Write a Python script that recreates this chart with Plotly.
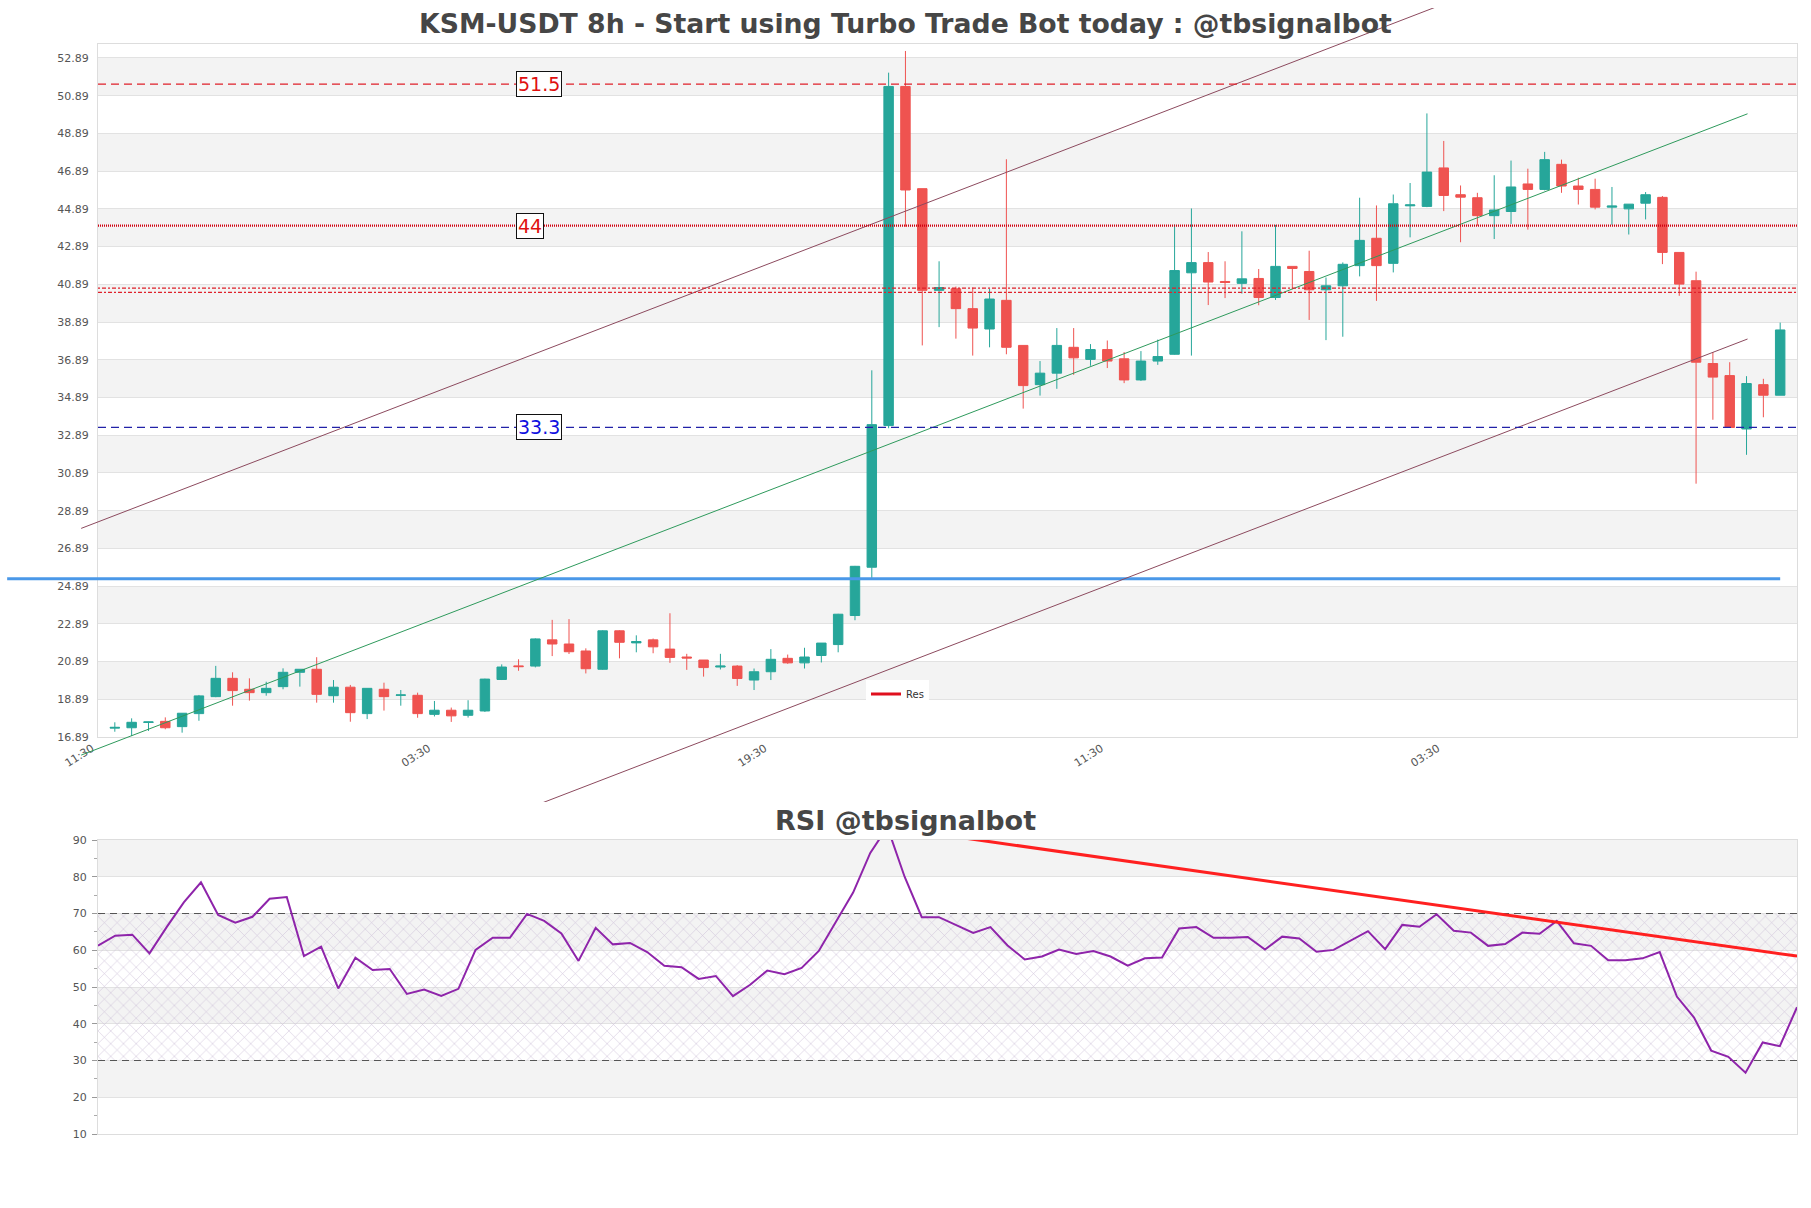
import plotly.graph_objects as go

W, H = 1811, 1208

# ---------------- data ----------------
candle_idx = list(range(100))
opens = [17.36, 17.38, 17.66, 17.72, 17.44, 18.13, 19.03, 20.00, 19.42, 19.24,
         19.56, 20.32, 20.48, 19.08, 19.53, 18.13, 19.42, 19.10, 19.10, 18.09,
         18.31, 18.04, 18.27, 19.94, 20.66, 20.65, 22.04, 21.82, 21.45, 20.48,
         22.52, 21.88, 22.04, 21.55, 21.13, 20.97, 20.60, 20.65, 19.91, 20.35,
         21.06, 20.82, 21.21, 21.79, 23.33, 25.89, 33.40, 51.38, 45.96, 40.57,
         40.65, 39.60, 38.52, 40.04, 37.65, 35.57, 36.18, 37.55, 36.91, 37.43,
         36.94, 35.82, 36.82, 37.18, 41.50, 42.04, 41.04, 40.94, 41.20, 40.19,
         41.84, 41.57, 40.60, 40.81, 41.88, 43.33, 42.00, 45.05, 45.02, 47.06,
         45.64, 45.48, 44.53, 44.75, 46.21, 45.92, 47.25, 46.10, 45.92, 44.98,
         44.89, 45.19, 45.50, 42.58, 41.08, 36.69, 36.05, 33.22, 35.57, 35.01]
highs = [17.67, 17.88, 17.70, 17.93, 18.16, 19.12, 20.66, 20.32, 20.00, 19.82,
         20.53, 20.48, 21.12, 19.91, 19.65, 19.47, 19.77, 19.38, 19.24, 18.80,
         18.45, 18.84, 19.98, 20.74, 21.01, 22.12, 23.10, 23.14, 21.59, 22.55,
         22.55, 22.28, 22.11, 23.45, 21.30, 20.97, 21.30, 20.70, 20.52, 21.55,
         21.26, 21.62, 21.87, 23.42, 25.96, 36.33, 52.11, 53.26, 45.96, 42.11,
         40.77, 40.72, 40.65, 47.52, 37.65, 36.82, 38.57, 38.57, 37.72, 37.91,
         37.30, 37.35, 37.96, 44.06, 44.91, 42.60, 42.11, 43.70, 41.70, 44.04,
         41.84, 42.67, 41.25, 42.05, 45.48, 45.07, 45.65, 46.26, 49.95, 48.49,
         46.13, 45.74, 46.67, 47.45, 47.02, 47.91, 47.50, 46.54, 46.49, 46.05,
         45.14, 45.78, 45.57, 42.58, 41.56, 37.30, 36.76, 36.02, 35.88, 38.86]
lows = [17.17, 16.94, 17.21, 17.30, 17.12, 17.75, 19.00, 18.55, 18.82, 19.08,
        19.42, 19.56, 18.71, 18.71, 17.70, 17.84, 18.29, 18.55, 17.91, 17.98,
        17.69, 17.92, 18.22, 19.91, 20.40, 20.58, 21.18, 21.29, 20.26, 20.45,
        21.06, 21.38, 21.33, 20.82, 20.45, 20.09, 20.47, 19.60, 19.38, 19.91,
        20.77, 20.52, 20.84, 21.38, 23.08, 25.28, 33.26, 43.94, 37.65, 38.62,
        38.01, 37.11, 37.55, 37.18, 34.30, 34.99, 35.35, 36.09, 36.57, 36.45,
        35.65, 35.77, 36.62, 37.16, 37.11, 39.79, 40.16, 40.40, 39.78, 40.06,
        40.63, 39.00, 37.93, 38.11, 41.31, 40.01, 41.52, 43.38, 44.98, 44.77,
        43.12, 44.00, 43.29, 44.09, 43.79, 45.87, 45.74, 45.12, 44.86, 44.04,
        43.53, 44.33, 41.96, 40.28, 30.32, 33.71, 33.30, 31.85, 33.84, 35.01]
closes = [17.40, 17.67, 17.69, 17.38, 18.15, 19.07, 20.00, 19.35, 19.24, 19.47,
          20.32, 20.48, 19.15, 19.53, 18.18, 19.47, 19.03, 19.12, 18.13, 18.31,
          18.01, 18.31, 19.96, 20.60, 20.62, 22.09, 21.82, 21.41, 20.51, 22.52,
          21.91, 21.95, 21.67, 21.11, 21.08, 20.57, 20.65, 19.99, 20.35, 21.01,
          20.82, 21.13, 21.87, 23.40, 25.94, 33.45, 51.38, 45.89, 40.57, 40.72,
          39.60, 38.57, 40.11, 37.55, 35.52, 36.18, 37.65, 36.99, 37.43, 36.82,
          35.82, 36.82, 37.06, 41.62, 42.04, 41.01, 40.99, 41.18, 40.19, 41.84,
          41.73, 40.60, 40.81, 41.95, 43.22, 41.88, 45.16, 45.10, 46.84, 45.60,
          45.51, 44.53, 44.83, 46.05, 45.92, 47.50, 46.10, 45.92, 44.98, 45.04,
          45.14, 45.64, 42.58, 40.90, 36.76, 35.97, 33.30, 35.63, 35.01, 38.47]

rsi_idx = list(range(100))
rsi_vals = [61.25, 63.97, 64.24, 59.16, 66.3, 73.0, 78.5, 69.6, 67.5, 69.1,
            74.0, 74.5, 58.4, 61.0, 49.6, 58.0, 54.6, 54.9, 48.1, 49.3,
            47.6, 49.5, 60.1, 63.4, 63.4, 69.9, 68.0, 64.6, 57.1, 66.1,
            61.6, 62.0, 59.5, 55.8, 55.4, 52.2, 53.0, 47.5, 50.6, 54.5,
            53.5, 55.2, 59.8, 67.8, 75.7, 86.5, 93.5, 80.0, 69.0, 69.0,
            66.9, 64.7, 66.3, 61.3, 57.5, 58.3, 60.2, 59.0, 59.8, 58.3,
            55.8, 57.8, 58.0, 65.9, 66.3, 63.4, 63.4, 63.6, 60.2, 63.7,
            63.2, 59.6, 60.1, 62.6, 65.2, 60.3, 66.9, 66.4, 69.8, 65.3,
            64.8, 61.2, 61.7, 64.8, 64.5, 68.0, 61.9, 61.2, 57.3, 57.3,
            57.8, 59.5, 47.4, 41.7, 32.7, 31.0, 26.7, 34.9, 33.9, 44.5]

xtick_vals = [-1, 19, 39, 59, 79]
xtick_text = ["11:30", "03:30", "19:30", "11:30", "03:30"]
price_ticks = [16.89, 18.89, 20.89, 22.89, 24.89, 26.89, 28.89, 30.89, 32.89, 34.89,
               36.89, 38.89, 40.89, 42.89, 44.89, 46.89, 48.89, 50.89, 52.89]
rsi_ticks = [10, 20, 30, 40, 50, 60, 70, 80, 90]

res_level_dash = 51.5
res_level_dot = 44.0
zone_levels = [40.46, 40.69]
sup_level = 33.3
blue_level = 25.28
blue_span = [-6.4, 99]

trend_x = [-2, 97.06]
trend_mid = [15.93, 49.93]
trend_up = [27.95, 61.95]
trend_lo = [3.99, 37.99]

rsi_trend_x = [46, 99]
rsi_trend_y = [93.5, 58.4]
rsi_ob, rsi_os = 70, 30

# ---------------- layout geometry ----------------
X0, X1 = 98 / W, 1797 / W
YM0, YM1 = 1 - 737 / H, 1 - 44 / H
YR0, YR1 = 1 - 1134 / H, 1 - 840 / H
xr = [-1, 100]
yr = [16.89, 53.63]
OX0, OX1 = 0.0, 1.0
OY0, OY1 = 1 - 802 / H, 1 - 8 / H


def lin(a0, a1, d0, d1, p):
    return a0 + (p - d0) / (d1 - d0) * (a1 - a0)


ox_range = [lin(xr[0], xr[1], X0, X1, OX0), lin(xr[0], xr[1], X0, X1, OX1)]
oy_range = [lin(yr[0], yr[1], YM0, YM1, OY0), lin(yr[0], yr[1], YM0, YM1, OY1)]

FONT = "DejaVu Sans"
GRAY_BAND = "#f3f3f3"
GRID = "#e2e2e2"
GREEN = "#26a69a"
RED = "#ef5350"

fig = go.Figure()

fig.add_trace(go.Candlestick(
    x=candle_idx, open=opens, high=highs, low=lows, close=closes,
    increasing=dict(line=dict(color=GREEN, width=1), fillcolor=GREEN),
    decreasing=dict(line=dict(color=RED, width=1), fillcolor=RED),
    whiskerwidth=0, showlegend=False, hoverinfo="skip",
    xaxis="x", yaxis="y"))

fig.add_trace(go.Scatter(x=[None], y=[None], mode="lines", name="Res",
                         line=dict(color="#e0101e", width=3),
                         xaxis="x", yaxis="y", showlegend=True))

fig.add_trace(go.Scatter(
    x=[rsi_idx[0], rsi_idx[-1], rsi_idx[-1], rsi_idx[0], rsi_idx[0]],
    y=[rsi_os, rsi_os, rsi_ob, rsi_ob, rsi_os],
    fill="toself", mode="lines", line=dict(width=0),
    fillcolor="rgba(0,0,0,0)",
    fillpattern=dict(shape="x", size=9, solidity=0.12, fgcolor="#c9bcd6",
                     fgopacity=0.9, fillmode="overlay"),
    showlegend=False, hoverinfo="skip", xaxis="x2", yaxis="y2"))

for lv in [rsi_ob, rsi_os]:
    fig.add_trace(go.Scatter(x=[rsi_idx[0], rsi_idx[-1]], y=[lv, lv], mode="lines",
                             line=dict(color="#555555", width=1.2, dash="7px,5px"),
                             showlegend=False, hoverinfo="skip", xaxis="x2", yaxis="y2"))

fig.add_trace(go.Scatter(x=rsi_idx, y=rsi_vals, mode="lines",
                         line=dict(color="#8e24aa", width=2),
                         showlegend=False, hoverinfo="skip", xaxis="x2", yaxis="y2"))
fig.add_trace(go.Scatter(x=rsi_trend_x, y=rsi_trend_y, mode="lines",
                         line=dict(color="#ff2020", width=3),
                         showlegend=False, hoverinfo="skip", xaxis="x2", yaxis="y2"))

fig.add_trace(go.Scatter(x=blue_span, y=[blue_level, blue_level], mode="lines",
                         line=dict(color="#4a98e8", width=3),
                         showlegend=False, hoverinfo="skip", xaxis="x3", yaxis="y3"))
fig.add_trace(go.Scatter(x=trend_x, y=trend_up, mode="lines",
                         line=dict(color="#8c4a5e", width=1),
                         showlegend=False, hoverinfo="skip", xaxis="x3", yaxis="y3"))
fig.add_trace(go.Scatter(x=trend_x, y=trend_lo, mode="lines",
                         line=dict(color="#8c4a5e", width=1),
                         showlegend=False, hoverinfo="skip", xaxis="x3", yaxis="y3"))
fig.add_trace(go.Scatter(x=trend_x, y=trend_mid, mode="lines",
                         line=dict(color="#2e9a5c", width=1),
                         showlegend=False, hoverinfo="skip", xaxis="x3", yaxis="y3"))

shapes = []
for k in range(len(price_ticks) - 1):
    if k % 2 == 1:
        shapes.append(dict(type="rect", xref="paper", yref="y", x0=X0, x1=X1,
                           y0=price_ticks[k], y1=price_ticks[k + 1],
                           fillcolor=GRAY_BAND, line=dict(width=0), layer="below"))
for k in range(len(rsi_ticks) - 1):
    if k % 2 == 1:
        shapes.append(dict(type="rect", xref="paper", yref="y2", x0=X0, x1=X1,
                           y0=rsi_ticks[k], y1=rsi_ticks[k + 1],
                           fillcolor=GRAY_BAND, line=dict(width=0), layer="below"))
shapes.append(dict(type="line", xref="paper", yref="y", x0=X0, x1=X1,
                   y0=res_level_dash, y1=res_level_dash,
                   line=dict(color="#e0202a", width=1.3, dash="8px,5px")))
shapes.append(dict(type="line", xref="paper", yref="y", x0=X0, x1=X1,
                   y0=res_level_dot, y1=res_level_dot,
                   line=dict(color="#d00010", width=2.2, dash="1px,1px")))
shapes.append(dict(type="line", xref="paper", yref="y", x0=X0, x1=X1,
                   y0=zone_levels[0], y1=zone_levels[0],
                   line=dict(color="#e0202a", width=1.4, dash="4px,2px,2px,2px")))
shapes.append(dict(type="line", xref="paper", yref="y", x0=X0, x1=X1,
                   y0=zone_levels[1], y1=zone_levels[1],
                   line=dict(color="#e0202a", width=1.4, dash="2px,2px,4px,2px")))
shapes.append(dict(type="line", xref="paper", yref="y", x0=X0, x1=X1,
                   y0=sup_level, y1=sup_level,
                   line=dict(color="#2222a8", width=1.3, dash="8px,5px")))

label_x = 23.85
annotations = [
    dict(text="KSM-USDT 8h - Start using Turbo Trade Bot today : @tbsignalbot",
         xref="paper", yref="paper", x=0.5, y=1 - 23 / H, xanchor="center", yanchor="middle",
         showarrow=False, font=dict(family=FONT, size=26.7, color="#464646", weight="bold")),
    dict(text="RSI @tbsignalbot",
         xref="paper", yref="paper", x=0.5, y=1 - 820 / H, xanchor="center", yanchor="middle",
         showarrow=False, font=dict(family=FONT, size=27, color="#464646", weight="bold")),
]
for val, col in [(res_level_dash, "#e01010"), (res_level_dot, "#e01010"), (sup_level, "#1010e0")]:
    annotations.append(dict(text=f"{val:g}", xref="x", yref="y", x=label_x, y=val,
                            xanchor="left", yanchor="middle", showarrow=False,
                            font=dict(family=FONT, size=19, color=col),
                            bgcolor="white", bordercolor="#111111", borderwidth=1, borderpad=1))

axis_font = dict(family=FONT, size=11, color="#555555")

fig.update_layout(
    width=W, height=H, autosize=False,
    margin=dict(l=0, r=0, t=0, b=0, autoexpand=False),
    paper_bgcolor="white", plot_bgcolor="rgba(0,0,0,0)",
    boxgap=0.25, boxgroupgap=0.25,
    showlegend=True,
    legend=dict(x=866 / W, y=1 - 694 / H, xanchor="left", yanchor="middle",
                bgcolor="white", font=dict(family=FONT, size=10, color="#333333"),
                itemwidth=30, borderwidth=0, tracegroupgap=0),
    shapes=shapes, annotations=annotations,
    xaxis=dict(domain=[X0, X1], range=xr, anchor="y", rangeslider=dict(visible=False),
               tickmode="array", tickvals=xtick_vals, ticktext=xtick_text, tickangle=-32,
               ticklabelshift=-6,
               tickfont=axis_font, showgrid=False, zeroline=False, automargin=False,
               showline=True, linecolor="#dddddd", mirror=True, ticks=""),
    yaxis=dict(domain=[YM0, YM1], range=yr, anchor="x", automargin=False,
               tickmode="array", tickvals=price_ticks, ticktext=[f"{t:.2f}" for t in price_ticks],
               ticklabelstandoff=6,
               tickfont=axis_font, showgrid=True, gridcolor=GRID, zeroline=False,
               showline=True, linecolor="#dddddd", mirror=True, ticks=""),
    xaxis2=dict(domain=[X0, X1], range=[rsi_idx[0], rsi_idx[-1]], anchor="y2",
                showticklabels=False, showgrid=False, zeroline=False, automargin=False,
                showline=True, linecolor="#dddddd", mirror=True, ticks=""),
    yaxis2=dict(domain=[YR0, YR1], range=[rsi_ticks[0], rsi_ticks[-1]], anchor="x2",
                tickmode="array", tickvals=rsi_ticks, tickfont=axis_font, automargin=False,
                showgrid=True, gridcolor=GRID, zeroline=False,
                showline=True, linecolor="#dddddd", mirror=True,
                ticks="outside", ticklen=5, tickcolor="#999999", ticklabelstandoff=3,
                minor=dict(ticks="outside", ticklen=3, tickcolor="#aaaaaa", dtick=5,
                           showgrid=False)),
    xaxis3=dict(domain=[OX0, OX1], range=ox_range, anchor="y3", visible=False, automargin=False),
    yaxis3=dict(domain=[OY0, OY1], range=oy_range, anchor="x3", visible=False, automargin=False),
)

fig.write_html("out.html")
